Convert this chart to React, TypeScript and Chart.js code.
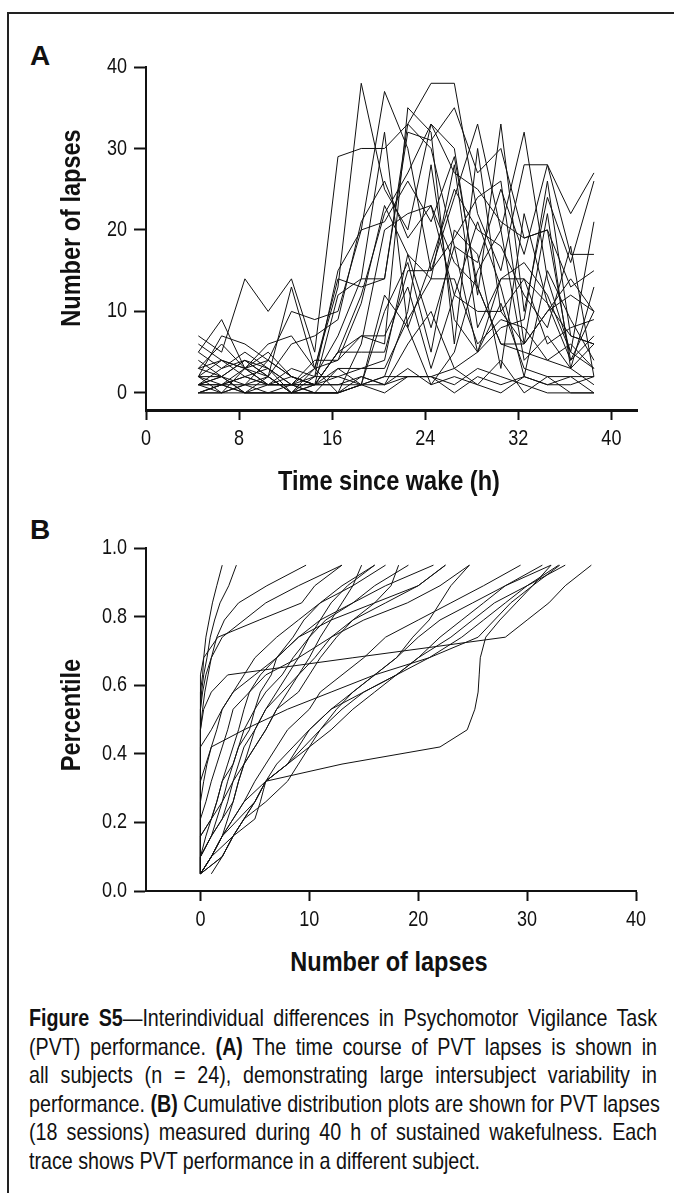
import React, { useEffect, useRef } from "react";
import { Chart, registerables } from "chart.js";
Chart.register(...registerables);

const FONT = "'Liberation Sans', Arial, sans-serif";
const NARROW_SCALE = 0.82; // emulates Arial Narrow

// ---------- Panel A: lapses over time (24 subjects, 18 sessions) ----------
const TIME_H = [4.5, 6.5, 8.5, 10.5, 12.5, 14.5, 16.5, 18.5, 20.5, 22.5, 24.5, 26.5, 28.5, 30.5, 32.5, 34.5, 36.5, 38.5];
const A_X_TICKS = [0, 8, 16, 24, 32, 40];
const A_Y_TICKS = [0, 10, 20, 30, 40];

const s01 = [7, 5, 14, 10, 14, 5, 29, 30, 30, 33, 38, 38, 22, 15, 28, 28, 22, 27];
const s02 = [5, 9, 3, 2, 13, 3, 13, 38, 25, 20, 33, 30, 12, 33, 10, 24, 16, 26];
const s03 = [2, 7, 6, 4, 10, 9, 10, 20, 37, 30, 15, 24, 33, 20, 32, 14, 5, 21];
const s04 = [1, 2, 4, 3, 1, 2, 7, 14, 14, 33, 30, 18, 16, 25, 17, 28, 17, 17];
const s05 = [0, 0, 1, 0, 0, 1, 5, 7, 6, 35, 32, 6, 30, 10, 6, 22, 3, 13];
const s06 = [2, 1, 3, 5, 2, 1, 12, 14, 32, 8, 16, 25, 20, 18, 12, 8, 18, 2];
const s07 = [3, 6, 3, 1, 1, 4, 4, 11, 23, 17, 14, 28, 8, 14, 16, 12, 5, 3];
const s08 = [1, 3, 5, 3, 0, 1, 5, 5, 5, 15, 15, 19, 24, 26, 6, 10, 14, 10];
const s09 = [1, 1, 2, 1, 1, 0, 0, 1, 2, 10, 28, 9, 5, 8, 9, 26, 7, 6];
const s10 = [4, 2, 1, 4, 2, 1, 3, 1, 10, 16, 5, 20, 17, 3, 22, 11, 4, 7];
const s11 = [0, 1, 0, 0, 0, 0, 0, 1, 1, 2, 2, 3, 1, 4, 0, 2, 0, 0];
const s12 = [1, 1, 1, 1, 1, 1, 1, 1, 2, 2, 2, 0, 2, 1, 2, 1, 1, 2];
const s13 = [0, 0, 0, 0, 0, 0, 0, 1, 0, 2, 2, 1, 3, 2, 1, 0, 0, 0];
const s14 = [2, 4, 2, 3, 1, 3, 0, 6, 20, 22, 23, 16, 13, 6, 6, 10, 12, 10];
const s15 = [3, 2, 4, 2, 0, 2, 15, 20, 21, 26, 21, 29, 13, 6, 5, 4, 6, 3];
const s16 = [1, 0, 1, 2, 0, 0, 0, 2, 1, 3, 1, 2, 1, 0, 2, 1, 2, 0];
const s17 = [2, 2, 0, 1, 3, 2, 2, 3, 4, 17, 8, 18, 5, 14, 14, 11, 7, 6];
const s18 = [5, 3, 4, 2, 6, 7, 9, 21, 26, 19, 23, 12, 21, 13, 2, 15, 9, 4];
const s19 = [0, 1, 2, 1, 2, 1, 2, 1, 12, 8, 1, 5, 15, 20, 4, 7, 3, 6];
const s20 = [1, 2, 0, 2, 0, 3, 4, 7, 7, 13, 3, 12, 10, 10, 14, 6, 8, 9];
const s21 = [3, 4, 3, 6, 7, 3, 14, 13, 14, 32, 31, 35, 27, 30, 19, 20, 4, 10];
const s22 = [0, 1, 0, 0, 1, 1, 1, 2, 1, 6, 10, 3, 5, 11, 3, 2, 2, 2];
const s23 = [2, 0, 3, 1, 1, 0, 3, 3, 3, 9, 14, 14, 6, 9, 8, 4, 3, 1];
const s24 = [6, 4, 3, 4, 2, 1, 5, 12, 22, 27, 33, 27, 25, 21, 19, 20, 13, 15];
const A_SERIES = [s01, s02, s03, s04, s05, s06, s07, s08, s09, s10, s11, s12, s13, s14, s15, s16, s17, s18, s19, s20, s21, s22, s23, s24];

// ---------- Panel B: cumulative distributions ----------
const PERCENTILE = [0.05, 0.1, 0.16, 0.21, 0.26, 0.32, 0.37, 0.42, 0.47, 0.53, 0.58, 0.63, 0.68, 0.74, 0.79, 0.84, 0.89, 0.95];
const B_X_TICKS = [0, 10, 20, 30, 40];
const B_Y_TICKS = [0, 0.2, 0.4, 0.6, 0.8, 1.0];

const b01 = [0, 0, 0, 0, 0, 0, 0, 0, 0, 0, 0, 0.2, 0.3, 0.5, 0.8, 1.1, 1.5, 2.0];
const b02 = [0, 0, 0, 0, 0, 0, 0, 0, 0, 0, 0.1, 0.3, 0.6, 0.9, 1.3, 1.8, 2.6, 3.3];
const b03 = [0, 0, 0, 0, 0, 0, 0, 0, 0, 0.2, 0.4, 0.7, 1.0, 1.5, 2.2, 3.5, 6.1, 9.7];
const b04 = [0, 0, 0, 0, 0, 0, 0, 0, 0, 0, 0, 0, 0.3, 1.6, 5.4, 9.3, 10.5, 13.0];
const b05 = [0, 0, 0, 0, 0, 0, 0, 0, 0, 0.3, 1, 2.5, 14, 28, 30, 32, 33.5, 35.9];
const b06 = [0, 1, 2, 3, 4, 6, 13, 22, 24.5, 25.2, 25.5, 25.6, 25.7, 26.2, 27.5, 29, 30.5, 32.2];
const b07 = [0, 0, 0, 0, 0, 0, 0.5, 1, 4, 8, 12, 16, 21, 25.5, 27, 28.5, 30.5, 33.0];
const b08 = [0, 0, 1, 1.5, 2, 2.5, 3, 3.5, 4.5, 5, 5.5, 6.5, 7, 8.5, 9.5, 11, 14, 17];
const b09 = [0, 0, 0, 1, 1.5, 2, 3, 3.5, 4, 5, 6, 7.5, 8.5, 10, 11.5, 14, 17, 21.4];
const b10 = [0, 0, 1, 2, 2.5, 3, 3.5, 4, 5, 6, 7.5, 9, 10.5, 12, 14, 17, 20, 22.5];
const b11 = [0, 0, 0, 0, 0.5, 1, 1.5, 2, 2.5, 3, 4.5, 6, 9, 12, 15, 19, 22, 24.7];
const b12 = [0, 1, 2, 2.5, 3, 3.5, 4, 4.5, 5, 6, 7, 8, 9, 10, 11, 12, 13.5, 16];
const b13 = [0, 0, 0.5, 1, 1.5, 2, 2.5, 3, 3.5, 4, 4.5, 5.5, 7, 9, 11, 14, 16, 19.1];
const b14 = [0, 0, 1, 2, 3, 3.5, 4, 5, 6, 7, 9, 10, 11, 12.5, 14, 16, 17.5, 18.2];
const b15 = [0, 1, 2, 3, 4, 5, 6, 7, 8, 10, 11, 13, 15, 17, 20, 23, 26, 29.4];
const b16 = [0, 2, 3, 4, 5, 6, 8, 9, 10, 12, 14, 16, 18, 20, 22, 25, 28, 31.4];
const b17 = [0, 2, 3, 5, 5.5, 6, 8, 10, 12, 14, 16, 18, 20, 23, 25, 27, 30, 32.9];
const b18 = [1, 2, 3, 4, 5, 6, 7, 8.5, 10, 12, 15, 18, 21, 24, 26, 28, 30, 33.5];
const b19 = [0, 1, 3, 4, 6, 8, 9, 10, 11, 13, 15, 18, 20, 22, 24, 26, 28, 32.2];
const b20 = [0, 0, 0, 1, 2, 3, 4, 5, 6, 7, 8, 9, 10, 11, 12, 13, 14, 14.8];
const b21 = [0, 0, 0, 0, 0, 0.3, 0.6, 1, 1.5, 2, 3, 4, 5, 7, 9, 11, 13, 16];
const b22 = [0, 0, 0, 0, 0, 0, 0, 0, 0, 0, 0.2, 0.5, 1, 2, 4, 6, 9, 13];
const b23 = [0, 1, 2, 3.5, 5, 6, 8, 9.5, 11, 12.5, 14, 16, 18, 19.5, 21, 22, 23, 24.7];
const b24 = [0, 0, 0, 0, 0, 0, 0, 0, 1, 2, 3, 5, 7, 9, 12, 16, 20, 22.5];
const B_SERIES = [b01, b02, b03, b04, b05, b06, b07, b08, b09, b10, b11, b12, b13, b14, b15, b16, b17, b18, b19, b20, b21, b22, b23, b24];

const LINE = "#111";

// Draws condensed tick labels (the library's own labels are made transparent).
const narrowLabels = {
  id: "narrowLabels",
  afterDraw(chart: any, _args: any, opts: any) {
    const ctx = chart.ctx;
    const xs = chart.scales.x;
    const ys = chart.scales.y;
    ctx.save();
    ctx.fillStyle = LINE;
    ctx.font = `22px ${FONT}`;
    ctx.textBaseline = "middle";
    ctx.textAlign = "center";
    for (const t of xs.ticks) {
      const px = xs.getPixelForValue(t.value);
      ctx.save();
      ctx.translate(px, chart.chartArea.bottom + 29);
      ctx.scale(NARROW_SCALE, 1);
      ctx.fillText(String(t.value), 0, 0);
      ctx.restore();
    }
    ctx.textAlign = "right";
    for (const t of ys.ticks) {
      const py = ys.getPixelForValue(t.value);
      ctx.save();
      ctx.translate(chart.chartArea.left - 19, py);
      ctx.scale(NARROW_SCALE, 1);
      ctx.fillText(opts && opts.yDigits ? Number(t.value).toFixed(opts.yDigits) : String(t.value), 0, 0);
      ctx.restore();
    }
    ctx.restore();
  },
};

function makeScale(min: number, max: number, ticks: number[], opts: any) {
  return {
    type: "linear",
    min,
    max,
    afterBuildTicks: (s: any) => {
      s.ticks = ticks.map((v) => ({ value: v }));
    },
    afterFit: opts.afterFit,
    grid: {
      drawOnChartArea: false,
      drawTicks: true,
      tickLength: opts.tickLength,
      tickWidth: 2,
      tickColor: LINE,
      color: LINE,
    },
    border: { display: true, color: LINE, width: opts.borderWidth },
    ticks: {
      font: { family: FONT, size: 22 },
      color: "rgba(0,0,0,0)",
      padding: 6,
      maxRotation: 0,
      autoSkip: false,
    },
  };
}

function PanelChart(props: {
  top: number;
  series: number[][];
  xOf: (s: number[], i: number) => number;
  yOf: (s: number[], i: number) => number;
  xMin: number; xMax: number; xTicks: number[];
  yMin: number; yMax: number; yTicks: number[];
  rightPad: number; xBorder: number; yDigits: number;
}) {
  const ref = useRef<HTMLCanvasElement | null>(null);
  useEffect(() => {
    if (!ref.current) return;
    const chart = new Chart(ref.current, {
      type: "line",
      data: {
        datasets: props.series.map((s) => ({
          data: s.map((_, i) => ({ x: props.xOf(s, i), y: props.yOf(s, i) })),
          borderColor: LINE,
          borderWidth: 1,
          pointRadius: 0,
          tension: 0,
          fill: false,
        })),
      },
      options: {
        animation: false,
        responsive: false,
        maintainAspectRatio: false,
        events: [],
        layout: { padding: { top: 67, right: props.rightPad, bottom: 0, left: 0 } },
        plugins: {
          legend: { display: false },
          tooltip: { enabled: false },
          narrowLabels: { yDigits: props.yDigits },
        },
        scales: {
          x: makeScale(props.xMin, props.xMax, props.xTicks, {
            afterFit: (s: any) => { s.height = 50; },
            tickLength: 10, borderWidth: props.xBorder,
          }),
          y: makeScale(props.yMin, props.yMax, props.yTicks, {
            afterFit: (s: any) => { s.width = 146; },
            tickLength: 12, borderWidth: 2,
          }),
        } as any,
      },
      plugins: [narrowLabels],
    } as any);
    return () => chart.destroy();
  }, []);
  return (
    <canvas
      ref={ref}
      width={674}
      height={460}
      style={{ position: "absolute", left: 0, top: props.top, width: 674, height: 460 }}
    />
  );
}

const titleStyle: React.CSSProperties = {
  position: "absolute",
  fontFamily: FONT,
  fontWeight: "bold",
  fontSize: 28,
  lineHeight: "28px",
  textAlign: "center",
  whiteSpace: "nowrap",
  color: "#111",
};

function HTitle({ text, cx, cy }: { text: string; cx: number; cy: number }) {
  return (
    <div style={{ ...titleStyle, left: cx - 200, top: cy - 14, width: 400, transform: `scaleX(${NARROW_SCALE + 0.02})` }}>
      {text}
    </div>
  );
}
function VTitle({ text, cx, cy }: { text: string; cx: number; cy: number }) {
  return (
    <div
      style={{
        ...titleStyle,
        left: cx - 200,
        top: cy - 14,
        width: 400,
        transform: `rotate(-90deg) scaleX(${NARROW_SCALE + 0.02})`,
      }}
    >
      {text}
    </div>
  );
}

const CAPTION_LINES: React.ReactNode[] = [
  <><b>Figure S5</b>—Interindividual differences in Psychomotor Vigilance Task</>,
  <>(PVT) performance. <b>(A)</b> The time course of PVT lapses is shown in</>,
  <>all subjects (n = 24), demonstrating large intersubject variability in</>,
  <>performance. <b>(B)</b> Cumulative distribution plots are shown for PVT lapses</>,
  <>(18 sessions) measured during 40 h of sustained wakefulness. Each</>,
  <>trace shows PVT performance in a different subject.</>,
];

const CAPTION_WIDTH = 628;

export default function App() {
  return (
    <div style={{ position: "absolute", left: 0, top: 0, width: 674, height: 1193, overflow: "hidden", background: "#fff" }}>
      <div
        style={{
          position: "absolute", left: 7, top: 12, width: 700, height: 1200,
          borderLeft: "2px solid #222", borderTop: "2px solid #222",
        }}
      />
      <div style={{ position: "absolute", left: 30, top: 42, fontFamily: FONT, fontWeight: "bold", fontSize: 28, lineHeight: "28px", color: "#111" }}>A</div>
      <div style={{ position: "absolute", left: 30, top: 516, fontFamily: FONT, fontWeight: "bold", fontSize: 28, lineHeight: "28px", color: "#111" }}>B</div>

      <PanelChart
        top={0}
        series={A_SERIES}
        xOf={(_s, i) => TIME_H[i]}
        yOf={(s, i) => s[i]}
        xMin={0} xMax={42.2} xTicks={A_X_TICKS}
        yMin={-2.1} yMax={40} yTicks={A_Y_TICKS}
        rightPad={37} xBorder={3} yDigits={0}
      />
      <PanelChart
        top={481}
        series={B_SERIES}
        xOf={(s, i) => s[i]}
        yOf={(_s, i) => PERCENTILE[i]}
        xMin={-5} xMax={40} xTicks={B_X_TICKS}
        yMin={0} yMax={1} yTicks={B_Y_TICKS}
        rightPad={38} xBorder={2} yDigits={1}
      />

      <VTitle text="Number of lapses" cx={71} cy={228} />
      <HTitle text="Time since wake (h)" cx={389} cy={481} />
      <VTitle text="Percentile" cx={71} cy={715} />
      <HTitle text="Number of lapses" cx={389} cy={962} />

      <div
        style={{
          position: "absolute", left: 29, top: 1004,
          width: CAPTION_WIDTH / NARROW_SCALE,
          transform: `scaleX(${NARROW_SCALE})`, transformOrigin: "0 0",
          fontFamily: FONT, fontSize: 24, lineHeight: "28.5px", color: "#111",
        }}
      >
        {CAPTION_LINES.map((ln, i) => (
          <div
            key={i}
            style={{
              whiteSpace: "nowrap",
              textAlign: "justify",
              textAlignLast: i < CAPTION_LINES.length - 1 ? "justify" : "left",
            }}
          >
            {ln}
          </div>
        ))}
      </div>
    </div>
  );
}
